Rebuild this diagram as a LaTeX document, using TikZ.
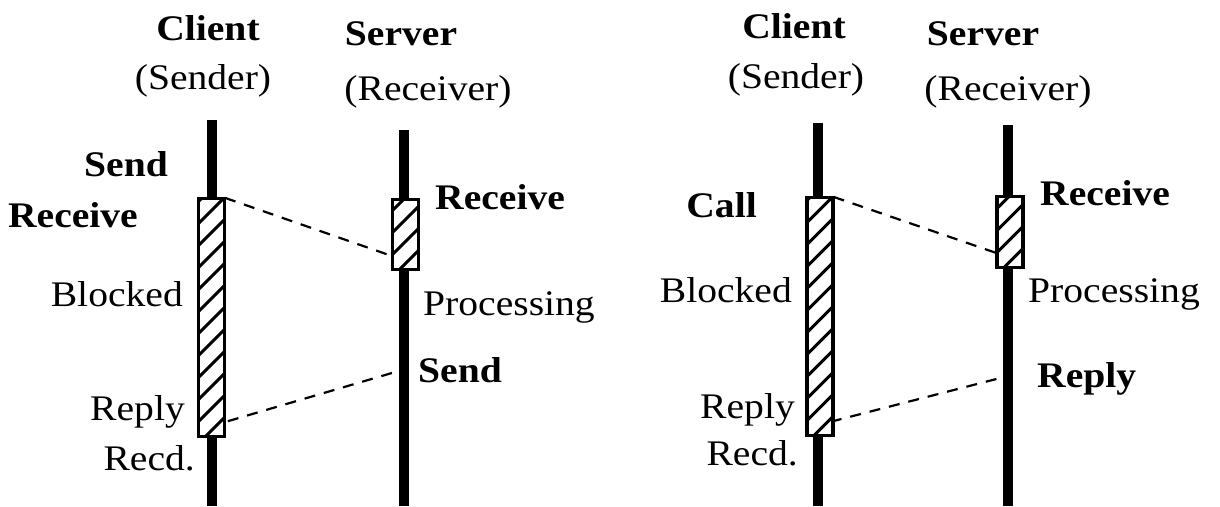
\documentclass[tikz,border=0pt]{standalone}
\usepackage{fontspec}
\setmainfont[FakeStretch=1.1]{Liberation Serif}
\usepackage{tikz}
\usetikzlibrary{positioning}

\tikzset{
  life/.style={line width=9.5pt},
  blockbox/.style={draw, line width=2.2pt, fill=white, inner sep=0pt, minimum width=25pt},
  msg/.style={line width=2.2pt, dash pattern=on 11pt off 9pt},
  lbl/.style={inner sep=0pt, font=\fontsize{36}{40}\selectfont},
  blbl/.style={inner sep=0pt, font=\fontsize{36}{40}\selectfont\bfseries},
}
\newcommand{\hatchbox}[1]{%
  \begin{scope}
    \clip (#1.south west) rectangle (#1.north east);
    \begin{scope}[shift={(#1.south west)}]
      \foreach \k in {0,...,13}
        \draw[line width=3pt] (-5,{12-22*\k}) -- ++(40,-40);
    \end{scope}
  \end{scope}
  \draw[line width=2.2pt] (#1.south west) rectangle (#1.north east);}

\begin{document}
\begin{tikzpicture}[x=1pt,y=-1pt]
\useasboundingbox (0,0) rectangle (1220,506);

% life lines
\draw[life] (212,120) -- (212,506);
\draw[life] (404,130) -- (404,506);
\draw[life] (818,123) -- (818,506);
\draw[life] (1008,125) -- (1008,506);

% blocked / busy boxes
\node[blockbox, minimum height=237pt] (cbox) at (211.5,317.5) {};
\node[blockbox, minimum height=69pt] (sbox) at (405.5,234.5) {};
\node[blockbox, minimum height=237pt] (cbox2) at (820,316.5) {};
\node[blockbox, minimum height=70pt] (sbox2) at (1010,232) {};
\hatchbox{cbox}
\hatchbox{sbox}
\hatchbox{cbox2}
\hatchbox{sbox2}

% messages
\draw[msg] (cbox.north east) -- (sbox.west |- 0,256);
\draw[msg] (sbox.west |- 0,373) -- (cbox.east |- 0,422);
\draw[msg] (cbox2.north east) -- (sbox2.west |- 0,253);
\draw[msg] (sbox2.west |- 0,379) -- (cbox2.east |- 0,421);

% headers
\node[blbl, anchor=base] (client) at (208,40) {Client};
\node[lbl, anchor=base] (sender) at (203,89) {(Sender)};
\node[blbl, anchor=base] (server) at (401,45) {Server};
\node[lbl, anchor=base] (receiver) at (428,100) {(Receiver)};
\node[blbl, anchor=base] (client2) at (794,38) {Client};
\node[lbl, anchor=base] (sender2) at (796,88) {(Sender)};
\node[blbl, anchor=base] (server2) at (983,45) {Server};
\node[lbl, anchor=base] (receiver2) at (1008,100) {(Receiver)};

% labels, send / receive
\node[blbl, anchor=base east] (send) at (168,176) {Send};
\node[blbl, anchor=base east] (recv) at (138,227) {Receive};
\node[lbl, anchor=base east] (blocked) at (183,306) {Blocked};
\node[lbl, anchor=base east] (reply) at (185,420) {Reply};
\node[lbl, anchor=base east] (recd) at (195,470) {Recd.};
\node[blbl, anchor=base west] (srecv) at (435,209) {Receive};
\node[lbl, anchor=base west] (proc) at (423,315) {Processing};
\node[blbl, anchor=base west] (ssend) at (418,382) {Send};

% labels, call / reply
\node[blbl, anchor=base east] (call) at (757,217) {Call};
\node[lbl, anchor=base east] (blocked2) at (792,302) {Blocked};
\node[lbl, anchor=base east] (reply2) at (795,418) {Reply};
\node[lbl, anchor=base east] (recd2) at (798,465) {Recd.};
\node[blbl, anchor=base west] (srecv2) at (1040,205) {Receive};
\node[lbl, anchor=base west] (proc2) at (1028,302) {Processing};
\node[blbl, anchor=base west] (sreply) at (1037,387) {Reply};

\end{tikzpicture}
\end{document}
